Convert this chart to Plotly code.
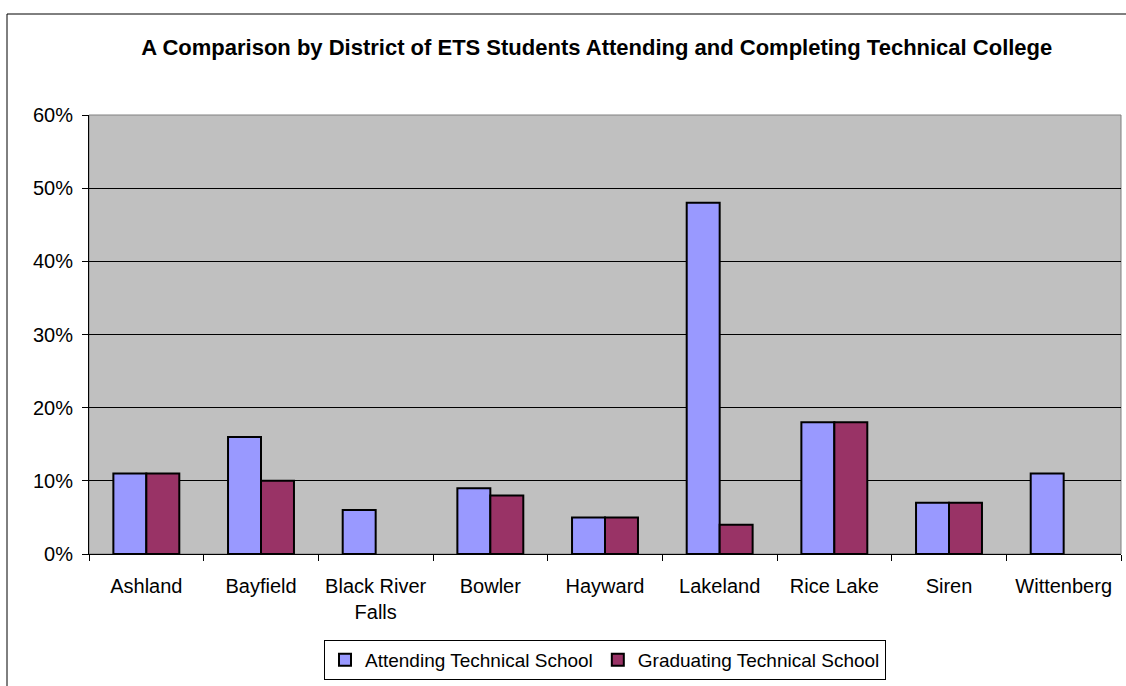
import plotly.graph_objects as go

districts = ["Ashland", "Bayfield", "Black River<br>Falls", "Bowler", "Hayward",
             "Lakeland", "Rice Lake", "Siren", "Wittenberg"]
attending = [0.11, 0.16, 0.06, 0.09, 0.05, 0.48, 0.18, 0.07, 0.11]
graduating = [0.11, 0.10, None, 0.08, 0.05, 0.04, 0.18, 0.07, None]

fig = go.Figure()
fig.add_trace(go.Bar(x=districts, y=attending, name="Attending Technical School",
                     marker=dict(color="#9999FF", line=dict(color="black", width=2))))
fig.add_trace(go.Bar(x=districts, y=graduating, name="Graduating Technical School",
                     marker=dict(color="#993366", line=dict(color="black", width=2))))

fig.update_layout(
    width=1126, height=686,
    margin=dict(l=89, r=5, t=115, b=132),
    paper_bgcolor="white", plot_bgcolor="#C0C0C0",
    font=dict(family="Arial, Liberation Sans, sans-serif", size=19, color="black"),
    title=dict(text="<b>A Comparison by District of ETS Students Attending and Completing Technical College</b>",
               x=0.530, xanchor="center", y=1 - 47 / 686, yanchor="middle",
               font=dict(size=22)),
    barmode="group", bargap=0.425, bargroupgap=0,
    showlegend=True,
    legend=dict(orientation="h", x=0.5, xanchor="center", y=-(680 - 554) / 439,
                yanchor="bottom",
                bordercolor="black", borderwidth=1, bgcolor="white",
                font=dict(size=19), itemwidth=30, tracegroupgap=0),
)
fig.update_yaxes(range=[0, 0.6], dtick=0.1, tickformat=".0%", showgrid=True,
                 gridcolor="black", gridwidth=1, ticks="outside", ticklen=6,
                 tickcolor="black", showline=True, linecolor="black", linewidth=1,
                 zeroline=False, tickfont=dict(size=20), ticklabelstandoff=5)
fig.update_xaxes(ticks="outside", tickson="boundaries", ticklen=6, tickcolor="black",
                 showline=True, linecolor="black", linewidth=1, showgrid=False,
                 tickfont=dict(size=20), ticklabelstandoff=14)

# plot area border (top/right) in gray
fig.add_shape(type="rect", xref="paper", yref="paper", x0=0, x1=1, y0=0, y1=1,
              line=dict(color="#808080", width=1), layer="below")
# chart outer border
fig.add_shape(type="rect", xref="paper", yref="paper",
              x0=(7 - 89) / 1032, x1=1.2, y0=-0.5, y1=(554 - 14) / 439,
              line=dict(color="black", width=1))

fig.write_html("out.html", config={"displayModeBar": False},
               post_script="document.body.style.margin='0';document.body.style.overflow='hidden';")
